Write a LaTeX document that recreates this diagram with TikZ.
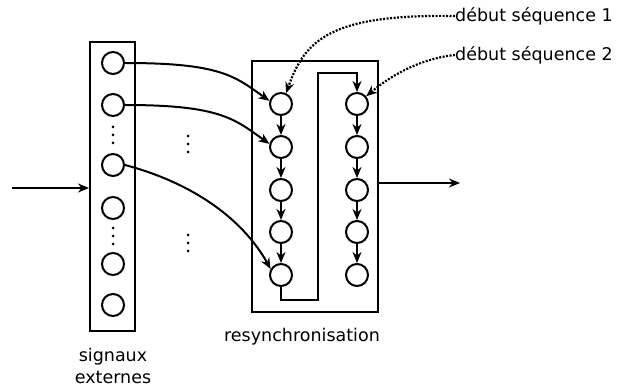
\documentclass[tikz,border=0pt]{standalone}
\usepackage{fontspec}
\setmainfont{DejaVu Sans}
\usetikzlibrary{arrows.meta,calc}
\begin{document}
\begin{tikzpicture}[x=1pt,y=-1pt,
  cell/.style={circle,draw,line width=2pt,minimum size=22pt,inner sep=0pt},
  frame/.style={draw,line width=2pt,inner sep=0pt},
  conn/.style={line width=2pt,-{Stealth[length=11pt,width=9pt,inset=3.5pt]}},
  dconn/.style={line width=2.2pt,dash pattern=on 2pt off 1.5pt,-{Stealth[length=11pt,width=9pt,inset=3.5pt]}},
  dot/.style={circle,fill,inner sep=0pt,minimum size=3pt},
  lbl/.style={font=\fontsize{17.5}{22}\selectfont,inner sep=0pt}]
\useasboundingbox (0,0) rectangle (618,387);
% frames
\node[frame,minimum width=45pt,minimum height=289pt] (LB) at (112.5,186.5) {};
\node[frame,minimum width=126pt,minimum height=251pt] (RB) at (315,186.5) {};
% left column cells
\node[cell] (S1) at (113,63) {};
\node[cell] (S2) at (113,105) {};
\node[cell] (S3) at (113,165) {};
\node[cell] (S4) at (113,208) {};
\node[cell] (S5) at (113,264) {};
\node[cell] (S6) at (113,305) {};
% dots in left box
\node[dot] (d1) at (113,127) {};
\node[dot] (d2) at (113,135) {};
\node[dot] (d3) at (113,143) {};
\node[dot] (d4) at (113,228) {};
\node[dot] (d5) at (113,236) {};
\node[dot] (d6) at (113,244) {};
% middle dots
\node[dot] (m1) at (188,136) {};
\node[dot] (m2) at (188,144) {};
\node[dot] (m3) at (188,152) {};
\node[dot] (m4) at (188,235) {};
\node[dot] (m5) at (188,243) {};
\node[dot] (m6) at (188,251) {};
% resync columns
\foreach \i/\y in {1/104,2/147,3/190,4/232,5/275}{
  \node[cell] (A\i) at (281,\y) {};
  \node[cell] (B\i) at (357,\y) {};
}
\foreach \i/\j in {1/2,2/3,3/4,4/5}{
  \draw[conn] (A\i) -- (A\j);
  \draw[conn] (B\i) -- (B\j);
}
% snake
\coordinate (c1) at (281,300);
\coordinate (c2) at (318,300);
\coordinate (c3) at (318,73);
\coordinate (c4) at (357,73);
\draw[conn] (A5.south) -- (c1) -- (c2) -- (c3) -- (c4) -- (B1.north);
% curves from signals
\draw[conn] (S1.east) .. controls +(95,0) and +(-35,-25) .. (A1.165);
\draw[conn] (S2.east) .. controls +(95,0) and +(-35,-25) .. (A2.165);
\draw[conn] (S3.east) .. controls +(75,20) and +(-25,-45) .. (A5.150);
% in and out
\coordinate (in) at (12,188);
\draw[conn] (in) -- (in -| LB.west);
\coordinate (out) at (460,183);
\draw[conn] (out -| RB.east) -- (out);
% labels
\node[lbl,anchor=west] (t1) at (455,16) {début séquence 1};
\node[lbl,anchor=west] (t2) at (455,55) {début séquence 2};
\node[lbl] (rs) at (302,337) {resynchronisation};
\node[lbl,align=center] (se) at (113,366) {signaux\\externes};
% dotted pointers
\draw[dconn] (t1.west) .. controls (330,14) and (305,40) .. (A1.65);
\draw[dconn] (t2.west) .. controls (425,58) and (395,72) .. (B1.40);
\end{tikzpicture}
\end{document}
